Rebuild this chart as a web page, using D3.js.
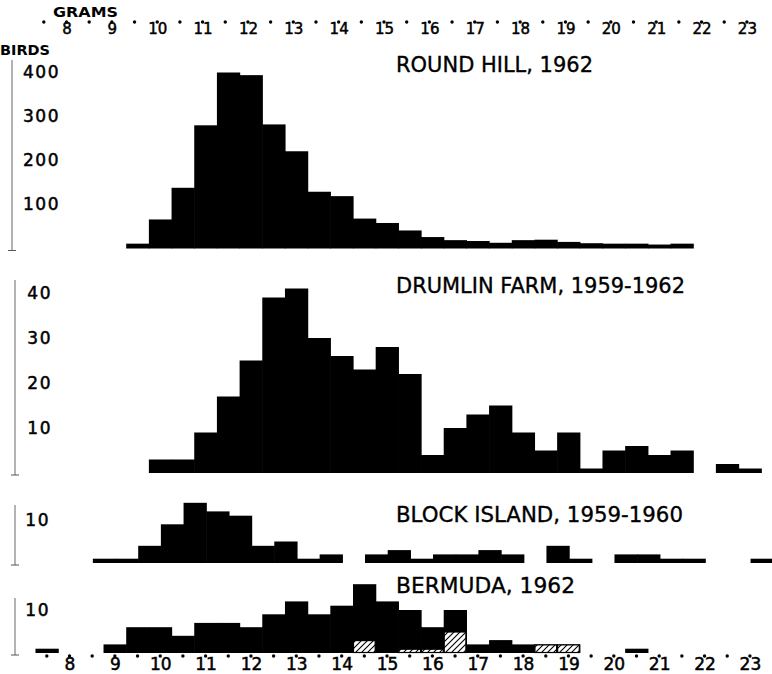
<!DOCTYPE html>
<html lang="en">
<head>
    <meta charset="UTF-8">
    <title>Bird weights by locality</title>
    <script src="https://d3js.org/d3.v7.min.js"></script>
    <style>
        body { margin: 0; background: #fff; }
        text { font-family: "DejaVu Sans", sans-serif; fill: #000; }
    </style>
</head>
<body>

<script>

    // weight classes, half a gram wide (class mid-points)
    var halfGrams = [7.5, 8, 8.5, 9, 9.5, 10, 10.5, 11, 11.5, 12, 12.5, 13, 13.5, 14, 14.5, 15,
                     15.5, 16, 16.5, 17, 17.5, 18, 18.5, 19, 19.5, 20, 20.5, 21, 21.5, 22, 22.5, 23];
    var gramLabels = [8, 9, 10, 11, 12, 13, 14, 15, 16, 17, 18, 19, 20, 21, 22, 23];

    // birds per class, one entry per halfGrams entry (null = no bar)
    var roundHill = [null, null, null, null, 11, 66, 138, 280, 400, 394, 282, 221, 129, 119, 68, 58,
                     41, 26, 19, 17, 13, 19, 20, 15, 12, 11, 11, 9, 11, null, null, null];
    var drumlinFarm = [null, null, null, null, null, 3, 3, 9, 17, 25, 39, 41, 30, 26, 23, 28,
                       22, 4, 10, 13, 15, 9, 5, 9, 1, 5, 6, 4, 5, null, 2, 1];
    var blockIsland = [null, null, 1, 1, 4, 9, 14, 12, 11, 4, 5, 1, 2, null, 2, 3,
                       1, 2, 2, 3, 2, null, 4, 1, null, 2, 2, 1, 1, null, null, 1];
    var bermuda = [1, null, null, 2, 6, 6, 4, 7, 7, 6, 9, 12, 9, 11, 16, 12,
                   10, 6, 10, 2, 3, 2, 2, 2, null, null, 1, null, null, null, null, null];
    var bermudaHatched = [null, null, null, null, null, null, null, null, null, null, null, null, null, null, 3, null,
                          1, 1, 5, null, null, null, 2, 2, null, null, null, null, null, null, null, null];

    var titles = ["ROUND HILL, 1962", "DRUMLIN FARM, 1959-1962", "BLOCK ISLAND, 1959-1960", "BERMUDA, 1962"];
    var roundHillTicks = [100, 200, 300, 400];
    var drumlinTicks = [10, 20, 30, 40];
    var smallTicks = [10];

    var xSize = 772;
    var ySize = 674;

    var svg = d3.select("body")
        .append("svg")
        .attr("width", xSize)
        .attr("height", ySize);

    svg.append("rect").attr("width", xSize).attr("height", ySize).attr("fill", "#fff");

    var defs = svg.append("defs");
    var hatch = defs.append("pattern")
        .attr("id", "hatch")
        .attr("patternUnits", "userSpaceOnUse")
        .attr("width", 6)
        .attr("height", 6);
    hatch.append("rect").attr("width", 6).attr("height", 6).attr("fill", "#fff");
    hatch.append("path")
        .attr("d", "M-1,1 l2,-2 M0,6 l6,-6 M5,7 l2,-2")
        .attr("stroke", "#000")
        .attr("stroke-width", 1.1);

    var xScale = d3.scaleLinear().domain([8, 23]).range([69.5, 749.9]);

    function binLeft(g) { return xScale(g - 0.25); }
    function binWidth(g) { return xScale(g + 0.25) - xScale(g - 0.25); }

    var panels = [
        {values: roundHill, title: titles[0], ticks: roundHillTicks, max: 400, base: 248.5, top: 72.5,
            shift: 0, axisX: 12, axisTop: 60, titleY: 72, titleW: 197, labelX: 60},
        {values: drumlinFarm, title: titles[1], ticks: drumlinTicks, max: 40, base: 473, top: 293,
            shift: 0, axisX: 15, axisTop: 280, titleY: 293, titleW: 289, labelX: 52},
        {values: blockIsland, title: titles[2], ticks: smallTicks, max: 10, base: 563, top: 520,
            shift: 12, axisX: 15, axisTop: 505, titleY: 522, titleW: 287, labelX: 50},
        {values: bermuda, title: titles[3], ticks: smallTicks, max: 10, base: 653, top: 610,
            shift: 0, axisX: 15, axisTop: 598, titleY: 593, titleW: 179, labelX: 50, hatched: bermudaHatched}
    ];

    panels.forEach(function (p) {
        var yScale = d3.scaleLinear().domain([0, p.max]).range([p.base, p.top]);

        var rows = halfGrams.map(function (g, i) { return {g: g, v: p.values[i]}; })
            .filter(function (d) { return d.v != null; });

        var g = svg.append("g").attr("transform", "translate(" + p.shift + ",0)");

        g.selectAll("rect.bar").data(rows).enter().append("rect")
            .attr("class", "bar")
            .attr("x", function (d) { return binLeft(d.g); })
            .attr("width", function (d) { return binWidth(d.g) + 0.6; })
            .attr("y", function (d) { return yScale(d.v); })
            .attr("height", function (d) { return p.base - yScale(d.v); })
            .attr("fill", "#000");

        if (p.hatched) {
            var hrows = halfGrams.map(function (g, i) { return {g: g, v: p.hatched[i]}; })
                .filter(function (d) { return d.v != null; });
            g.selectAll("rect.hatch").data(hrows).enter().append("rect")
                .attr("class", "hatch")
                .attr("x", function (d) { return binLeft(d.g) + 0.5; })
                .attr("width", function (d) { return binWidth(d.g) - 1; })
                .attr("y", function (d) { return yScale(d.v) + 0.5; })
                .attr("height", function (d) { return p.base - yScale(d.v) - 1; })
                .attr("fill", "url(#hatch)")
                .attr("stroke", "#000")
                .attr("stroke-width", 1.2);
        }

        // thin vertical scale line with a foot
        svg.append("line")
            .attr("x1", p.axisX).attr("x2", p.axisX)
            .attr("y1", p.axisTop).attr("y2", p.base + 2)
            .attr("stroke", "#666").attr("stroke-width", 1);
        svg.append("line")
            .attr("x1", p.axisX - 4).attr("x2", p.axisX + 4)
            .attr("y1", p.base + 2).attr("y2", p.base + 2)
            .attr("stroke", "#555").attr("stroke-width", 1);

        var yAxis = svg.append("g")
            .attr("transform", "translate(" + p.axisX + ",0)")
            .call(d3.axisRight(yScale).tickValues(p.ticks).tickSize(0));
        yAxis.select(".domain").remove();
        yAxis.selectAll("text")
            .attr("x", p.labelX - p.axisX)
            .attr("text-anchor", "end")
            .attr("stroke", "#000")
            .attr("stroke-width", 0.5)
            .style("font-size", "17px")
            .style("letter-spacing", "1.5px")
            .style("font-family", "DejaVu Sans");

        svg.append("text")
            .attr("x", 396)
            .attr("y", p.titleY)
            .attr("textLength", p.titleW)
            .attr("lengthAdjust", "spacingAndGlyphs")
            .attr("stroke", "#000")
            .attr("stroke-width", 0.35)
            .style("font-size", "22px")
            .text(p.title);
    });

    // grams scale along the top
    var topG = svg.append("g").attr("transform", "translate(-3,0)");
    topG.selectAll("circle").data(halfGrams).enter().append("circle")
        .attr("cx", function (d) { return xScale(d); })
        .attr("cy", 22)
        .attr("r", 1.7)
        .attr("fill", "#000");
    var topAxis = topG.append("g")
        .attr("transform", "translate(0,22)")
        .call(d3.axisBottom(xScale).tickValues(gramLabels).tickSize(0).tickPadding(1).tickFormat(d3.format("d")));
    topAxis.select(".domain").remove();
    topAxis.selectAll("text")
        .attr("stroke", "#000").attr("stroke-width", 0.5)
        .style("font-size", "15px").style("font-family", "DejaVu Sans");

    // grams scale along the bottom
    svg.append("g").selectAll("circle").data(halfGrams).enter().append("circle")
        .attr("cx", function (d) { return xScale(d); })
        .attr("cy", 656)
        .attr("r", 1.7)
        .attr("fill", "#000");
    var bottomAxis = svg.append("g")
        .attr("transform", "translate(0,656)")
        .call(d3.axisBottom(xScale).tickValues(gramLabels).tickSize(0).tickPadding(2).tickFormat(d3.format("d")));
    bottomAxis.select(".domain").remove();
    bottomAxis.selectAll("text")
        .attr("stroke", "#000").attr("stroke-width", 0.5)
        .style("font-size", "17px").style("font-family", "DejaVu Sans");

    svg.append("text")
        .attr("x", 53).attr("y", 17)
        .attr("textLength", 65).attr("lengthAdjust", "spacingAndGlyphs")
        .style("font-size", "14px").style("font-weight", "bold")
        .text("GRAMS");

    svg.append("text")
        .attr("x", 0).attr("y", 55)
        .attr("textLength", 50).attr("lengthAdjust", "spacingAndGlyphs")
        .style("font-size", "14px").style("font-weight", "bold")
        .text("BIRDS");

</script>

</body>
</html>
